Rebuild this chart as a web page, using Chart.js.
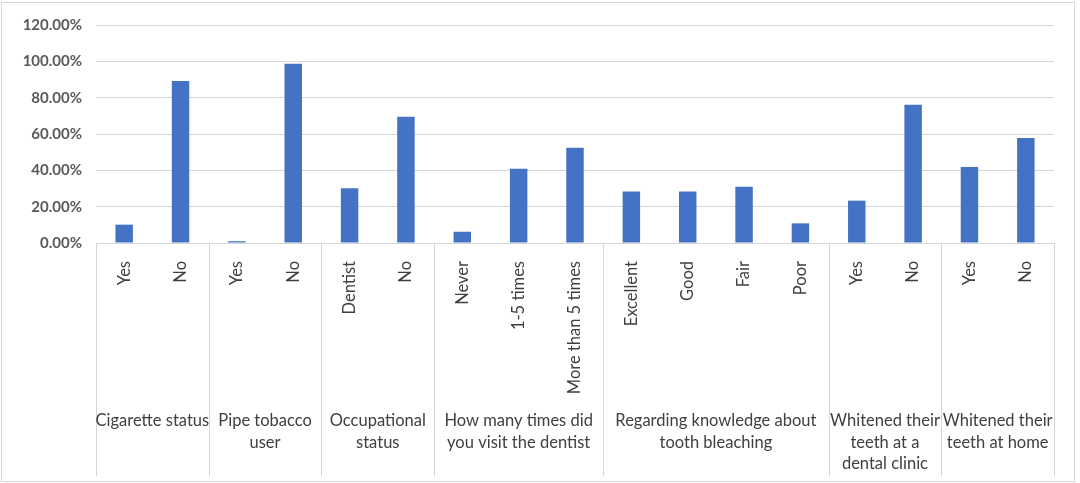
<!DOCTYPE html>
<html>
<head>
<meta charset="utf-8">
<script src="https://cdn.jsdelivr.net/npm/chart.js@4"></script>
<style>
  body { margin: 0; background: #fff; }
  #wrap { width: 1080px; height: 483px; position: relative; }
</style>
</head>
<body>
<div id="wrap"><canvas id="myChart"></canvas></div>
<script>
// category labels (inner level) and values in percent
const categories = ['Yes', 'No', 'Yes', 'No', 'Dentist', 'No', 'Never', '1-5 times', 'More than 5 times',
    'Excellent', 'Good', 'Fair', 'Poor', 'Yes', 'No', 'Yes', 'No'];
const values = [10.1, 89.2, 1.0, 98.7, 30.1, 69.5, 6.2, 40.9, 52.5, 28.4, 28.4, 31.0, 10.8, 23.3, 76.1, 41.8, 57.8];

// outer level: group names (already broken into lines) and how many categories each has
const groupLabels = [
    ['Cigarette status'],
    ['Pipe tobacco', 'user'],
    ['Occupational', 'status'],
    ['How many times did', 'you visit the dentist'],
    ['Regarding knowledge about', 'tooth bleaching'],
    ['Whitened their', 'teeth at a', 'dental clinic'],
    ['Whitened their', 'teeth at home']
];
const groupSizes = [2, 2, 2, 3, 4, 2, 2];

const yTicks = [0, 20, 40, 60, 80, 100, 120];

const gridColor = '#d6d6d6';
const textColor = '#404040';

// draws the group separators, group names and outer border
const groupPlugin = {
    id: 'groups',
    afterDraw(chart) {
        const ctx = chart.ctx;
        const x = chart.scales.x;
        const area = chart.chartArea;
        const bottom = 476;
        ctx.save();
        ctx.strokeStyle = gridColor;
        ctx.lineWidth = 1;

        let start = 0;
        let edges = [area.left];
        groupSizes.forEach(n => {
            const end = start + n;
            let e;
            if (end >= categories.length) e = area.right;
            else e = (x.getPixelForValue(end - 1) + x.getPixelForValue(end)) / 2;
            edges.push(e);
            start = end;
        });
        edges.forEach(e => {
            const px = Math.round(e) + 0.5;
            ctx.beginPath();
            ctx.moveTo(px, area.bottom);
            ctx.lineTo(px, bottom);
            ctx.stroke();
        });

        ctx.fillStyle = textColor;
        ctx.font = '16.5px Lato';
        ctx.textAlign = 'center';
        ctx.textBaseline = 'middle';
        groupLabels.forEach((lines, i) => {
            const cx = (edges[i] + edges[i + 1]) / 2;
            lines.forEach((t, j) => {
                ctx.fillText(t, cx, 421 + j * 21.5);
            });
        });

        ctx.strokeRect(1.5, 2.5, 1073, 479);
        ctx.restore();
    }
};

document.addEventListener("DOMContentLoaded", myLoadEvent);

function myLoadEvent() {
    const ctx = document.getElementById('myChart');

    new Chart(ctx, {
        type: 'bar',
        data: {
            labels: categories,
            datasets: [{
                data: values,
                backgroundColor: '#4472c4',
                barPercentage: 0.31,
                categoryPercentage: 1
            }]
        },
        options: {
            responsive: true,
            maintainAspectRatio: false,
            animation: false,
            layout: {
                padding: { top: 25, right: 26, bottom: 7, left: 0 }
            },
            plugins: {
                legend: { display: false },
                tooltip: { enabled: false }
            },
            scales: {
                x: {
                    grid: { display: false },
                    border: { display: false },
                    ticks: {
                        autoSkip: false,
                        minRotation: 90,
                        maxRotation: 90,
                        padding: 10,
                        color: textColor,
                        font: { family: 'Lato', size: 16.5 }
                    },
                    afterFit(axis) { axis.height = 233; }
                },
                y: {
                    min: 0,
                    max: 120,
                    afterBuildTicks(axis) {
                        axis.ticks = yTicks.map(v => ({ value: v }));
                    },
                    grid: { color: gridColor, drawTicks: false },
                    border: { display: false },
                    ticks: {
                        padding: 14,
                        color: '#595959',
                        font: { family: 'Lato', size: 15, weight: 'bold' },
                        callback: v => v.toFixed(2) + '%'
                    },
                    afterFit(axis) { axis.width = 96; }
                }
            }
        },
        plugins: [groupPlugin]
    });
}
</script>
</body>
</html>
